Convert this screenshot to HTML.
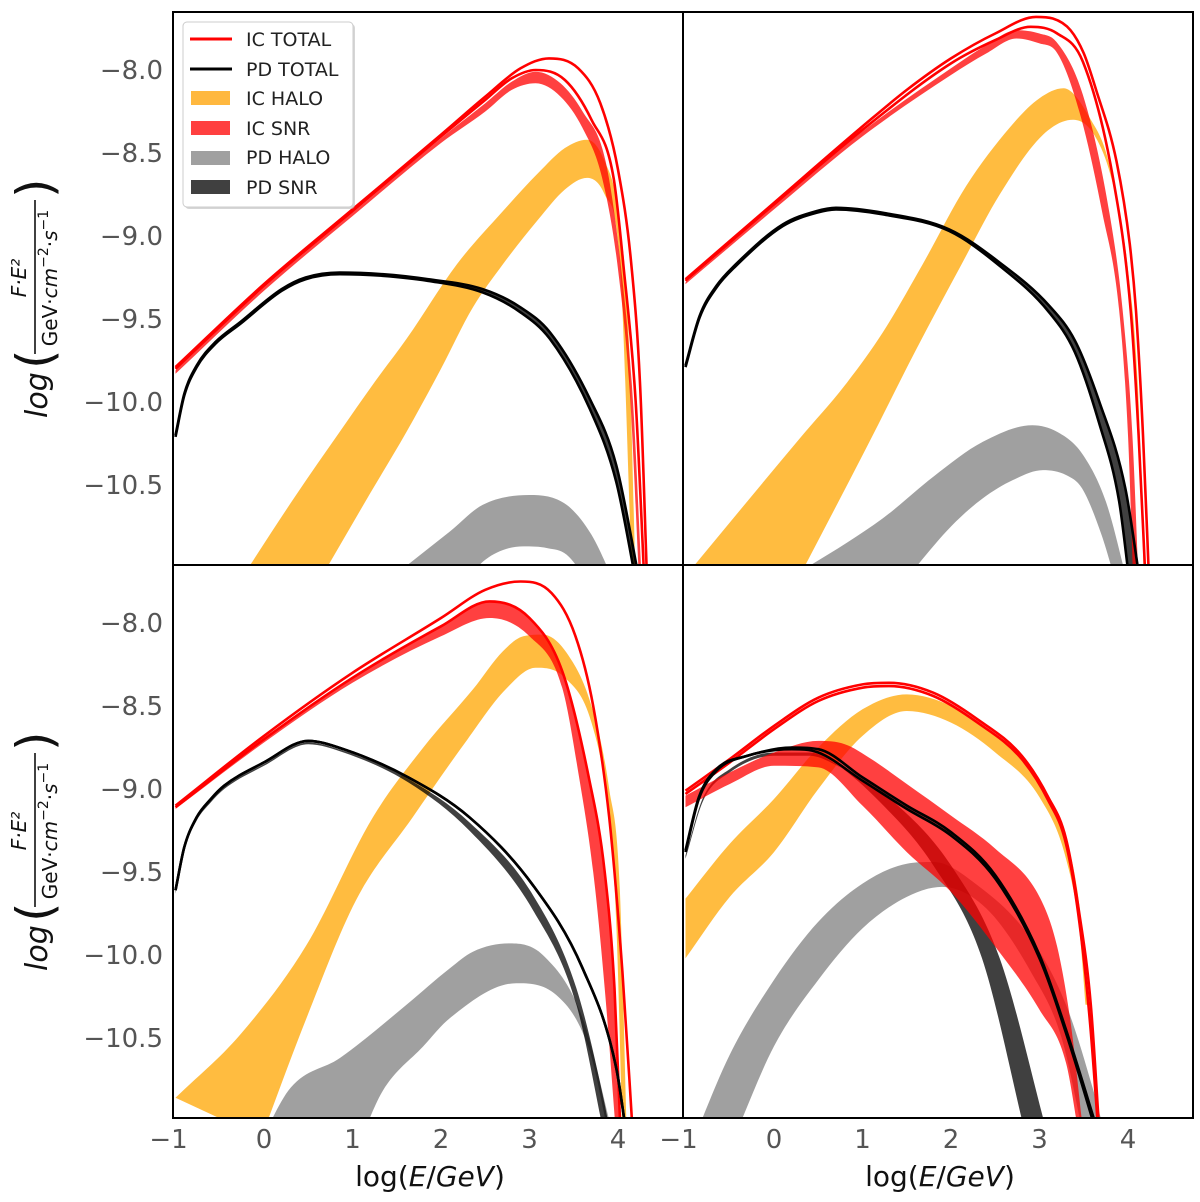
<!DOCTYPE html>
<html><head><meta charset="utf-8"><style>
body{margin:0;background:#fff;}
svg{display:block;font-family:"DejaVu Sans","Liberation Sans",sans-serif;}
.tick{font-size:26px;fill:#555;}
</style></head><body>
<svg id="chart" width="1200" height="1202" viewBox="0 0 1200 1202"></svg>
<script>
// ---- data (log E, log F·E²) ----
const xTicks = [-1,0,1,2,3,4];
const yTicks = [-8.0,-8.5,-9.0,-9.5,-10.0,-10.5];
// Panel 1 (top-left)
const p1IcTotalUpper=[[-1,-9.79],[0,-9.29],[1,-8.84],[2,-8.39],[2.5,-8.16],[2.9,-7.99],[3.22,-7.93],[3.55,-7.99],[3.8,-8.2],[4.0,-8.6],[4.15,-9.17],[4.25,-9.9],[4.33,-11.1]];
const p1IcTotalLower=[[-1,-9.8],[0,-9.3],[1,-8.85],[2,-8.4],[2.5,-8.18],[2.8,-8.05],[3.07,-8.0],[3.4,-8.06],[3.7,-8.3],[3.95,-8.65],[4.06,-9.17],[4.2,-10.0],[4.3,-11.1]];
const p1IcSnrUpper=[[-1,-9.81],[0,-9.31],[1,-8.86],[2,-8.41],[2.5,-8.2],[2.8,-8.07],[3.07,-8.01],[3.35,-8.08],[3.6,-8.25],[3.86,-8.55],[4.03,-9.17],[4.17,-10.0],[4.27,-11.1]];
const p1IcSnrLower=[[-1,-9.83],[0,-9.33],[1,-8.88],[2,-8.44],[2.5,-8.25],[2.8,-8.12],[3.07,-8.08],[3.35,-8.16],[3.6,-8.35],[3.82,-8.65],[4.0,-9.2],[4.14,-10.0],[4.24,-11.1]];
const p1IcHaloUpper=[[-0.3,-11.1],[0.35,-10.57],[0.855,-10.18],[1.25,-9.88],[1.61,-9.62],[2.18,-9.17],[2.7,-8.85],[3.1,-8.62],[3.4,-8.47],[3.65,-8.42],[3.85,-8.55],[4.0,-8.85],[4.12,-9.6],[4.2,-11.1]];
const p1IcHaloLower=[[0.6,-11.1],[1.2,-10.55],[1.61,-10.18],[2.0,-9.8],[2.36,-9.43],[2.7,-9.17],[3.1,-8.9],[3.4,-8.72],[3.65,-8.65],[3.85,-8.75],[4.02,-9.15],[4.16,-11.1]];
const p1PdHaloUpper=[[1.34,-11.1],[2.1,-10.78],[2.47,-10.62],[3.0,-10.56],[3.42,-10.62],[3.7,-10.8],[3.97,-11.1]];
const p1PdHaloLower=[[2.25,-11.1],[2.5,-10.95],[2.93,-10.87],[3.2,-10.88],[3.42,-10.92],[3.68,-11.1]];
const p1PdSnrUpper=[[-1,-10.2],[-0.9,-9.95],[-0.76,-9.78],[-0.55,-9.64],[-0.27,-9.52],[0.2,-9.32],[0.47,-9.25],[0.855,-9.22],[1.34,-9.23],[1.85,-9.26],[2.47,-9.32],[2.9,-9.43],[3.23,-9.58],[3.68,-9.98],[3.98,-10.38],[4.25,-11.1]];
const p1PdSnrLower=[[-1,-10.21],[-0.9,-9.96],[-0.76,-9.79],[-0.55,-9.65],[-0.27,-9.53],[0.2,-9.33],[0.47,-9.26],[0.855,-9.23],[1.34,-9.24],[1.85,-9.27],[2.47,-9.34],[2.9,-9.46],[3.23,-9.62],[3.68,-10.04],[3.98,-10.48],[4.21,-11.1]];
const p1PdTotalUpper=p1PdSnrUpper, p1PdTotalLower=p1PdSnrLower;
// Panel 2 (top-right)
const p2IcTotalUpper=[[-1,-9.26],[0,-8.8],[1,-8.34],[1.5,-8.12],[2,-7.93],[2.5,-7.78],[2.96,-7.68],[3.15,-7.69],[3.35,-7.76],[3.5,-7.9],[3.64,-8.12],[3.87,-8.55],[4.02,-9.05],[4.09,-9.45],[4.17,-10.2],[4.24,-11.1]];
const p2IcTotalLower=[[-1,-9.27],[0,-8.81],[1,-8.36],[2,-7.96],[2.5,-7.82],[2.9,-7.74],[3.2,-7.78],[3.49,-7.95],[3.83,-8.65],[4.03,-9.45],[4.12,-10.2],[4.2,-11.1]];
const p2IcSnrUpper=[[-1,-9.28],[0,-8.82],[1,-8.37],[2,-7.99],[2.4,-7.85],[2.74,-7.76],[3.0,-7.78],[3.19,-7.83],[3.49,-8.15],[3.79,-8.86],[3.94,-9.45],[4.05,-10.2],[4.12,-11.1]];
const p2IcSnrLower=[[-1,-9.29],[0,-8.84],[1,-8.4],[2,-8.03],[2.4,-7.9],[2.74,-7.81],[3.0,-7.84],[3.19,-7.89],[3.45,-8.25],[3.71,-8.86],[3.9,-9.45],[4.0,-10.2],[4.06,-11.1]];
const p2IcHaloUpper=[[-1.08,-11.1],[0.29,-10.22],[0.8,-9.9],[1.23,-9.58],[1.68,-9.17],[2.17,-8.7],[2.74,-8.3],[3.0,-8.17],[3.27,-8.11],[3.57,-8.29],[3.79,-8.57],[3.94,-9.05],[4.1,-9.9],[4.2,-11.1]];
const p2IcHaloLower=[[0.24,-11.1],[1.04,-10.28],[1.61,-9.68],[2.12,-9.17],[2.55,-8.75],[3.04,-8.39],[3.38,-8.3],[3.64,-8.41],[3.83,-8.69],[4.0,-9.2],[4.12,-10.0],[4.18,-11.1]];
const p2PdHaloUpper=[[0.06,-11.1],[1.23,-10.7],[1.8,-10.45],[2.36,-10.24],[2.92,-10.14],[3.2,-10.18],[3.48,-10.31],[3.75,-10.6],[4.0,-11.1]];
const p2PdHaloLower=[[1.44,-11.1],[2.0,-10.75],[2.36,-10.58],[2.7,-10.47],[3.04,-10.41],[3.3,-10.44],[3.48,-10.52],[3.7,-10.8],[3.87,-11.1]];
const p2PdSnrUpper=[[-1,-9.78],[-0.84,-9.48],[-0.65,-9.3],[-0.43,-9.17],[0.1,-8.93],[0.48,-8.85],[0.7,-8.83],[1.23,-8.86],[1.98,-8.96],[2.55,-9.16],[3.11,-9.42],[3.4,-9.63],[3.67,-9.99],[3.97,-10.52],[4.14,-11.1]];
const p2PdSnrLower=[[-1,-9.79],[-0.84,-9.49],[-0.65,-9.31],[-0.43,-9.18],[0.1,-8.94],[0.48,-8.86],[0.7,-8.84],[1.23,-8.87],[1.98,-8.97],[2.55,-9.18],[3.11,-9.46],[3.4,-9.7],[3.67,-10.12],[3.9,-10.6],[4.02,-11.1]];
const p2PdTotalUpper=p2PdSnrUpper, p2PdTotalLower=p2PdSnrLower;
// Panel 3 (bottom-left)
const p3IcTotalUpper=[[-1,-9.1],[0,-8.68],[1,-8.3],[2,-7.97],[2.5,-7.8],[2.9,-7.75],[3.25,-7.82],[3.52,-8.08],[3.72,-8.5],[3.9,-9.17],[4.05,-10.1],[4.17,-11.1]];
const p3IcSnrUpper=[[-1,-9.11],[0,-8.7],[1,-8.33],[2,-8.02],[2.55,-7.87],[3.0,-7.97],[3.37,-8.29],[3.67,-8.93],[3.85,-9.5],[3.96,-10.2],[4.03,-11.1]];
const p3IcSnrLower=[[-1,-9.12],[0,-8.72],[1,-8.36],[2,-8.08],[2.55,-7.97],[3.0,-8.08],[3.37,-8.39],[3.56,-8.93],[3.72,-9.5],[3.85,-10.2],[3.98,-11.1]];
const p3IcTotalLower=p3IcSnrUpper;
const p3IcHaloUpper=[[-1,-10.86],[-0.27,-10.48],[0.48,-9.94],[1.23,-9.17],[1.8,-8.75],[2.36,-8.4],[2.7,-8.17],[2.93,-8.08],[3.15,-8.07],[3.42,-8.18],[3.7,-8.5],[3.9,-9.0],[4.02,-9.6],[4.1,-11.1]];
const p3IcHaloLower=[[-0.03,-11.1],[0.48,-10.38],[1.04,-9.67],[1.68,-9.17],[2.3,-8.7],[2.73,-8.4],[3.07,-8.27],[3.4,-8.33],[3.7,-8.6],[3.88,-9.1],[3.98,-9.8],[4.05,-11.1]];
const p3PdHaloUpper=[[-0.02,-11.1],[0.3,-10.8],[0.86,-10.62],[1.61,-10.3],[2.1,-10.08],[2.36,-9.98],[2.78,-9.93],[3.15,-10.0],[3.6,-10.38],[3.95,-11.1]];
const p3PdHaloLower=[[1.1,-11.1],[1.34,-10.82],[1.8,-10.55],[2.1,-10.38],[2.85,-10.17],[3.3,-10.24],[3.68,-10.58],[3.9,-11.1]];
const p3PdTotalUpper=[[-1,-9.61],[-0.9,-9.35],[-0.76,-9.17],[-0.6,-9.06],[-0.45,-8.98],[0,-8.84],[0.5,-8.71],[0.9,-8.76],[1.63,-8.93],[2.32,-9.17],[3.04,-9.58],[3.6,-10.08],[3.98,-10.68],[4.1,-11.1]];
const p3PdTotalLower=p3PdTotalUpper;
const p3PdSnrUpper=[[-1,-9.62],[-0.9,-9.36],[-0.76,-9.18],[-0.6,-9.07],[-0.45,-8.99],[0,-8.85],[0.5,-8.72],[0.9,-8.77],[1.63,-8.94],[2.32,-9.2],[3.04,-9.64],[3.53,-10.2],[3.85,-10.9],[3.92,-11.1]];
const p3PdSnrLower=[[-1,-9.63],[-0.9,-9.37],[-0.76,-9.19],[-0.6,-9.08],[-0.45,-9.0],[0,-8.86],[0.5,-8.73],[0.9,-8.78],[1.63,-8.96],[2.32,-9.25],[3.04,-9.73],[3.53,-10.3],[3.85,-11.1]];
// Panel 4 (bottom-right)
const p4IcTotalUpper=[[-1,-9.01],[-0.5,-8.82],[0,-8.62],[0.5,-8.45],[1,-8.37],[1.3,-8.36],[1.8,-8.42],[2.3,-8.58],[2.8,-8.8],[3.1,-9.05],[3.3,-9.3],[3.45,-9.75],[3.58,-10.3],[3.68,-11.1]];
const p4IcTotalLower=[[-1,-9.03],[-0.5,-8.84],[0,-8.64],[0.5,-8.47],[1,-8.39],[1.3,-8.38],[1.8,-8.44],[2.3,-8.6],[2.8,-8.82],[3.1,-9.07],[3.3,-9.33],[3.45,-9.8],[3.57,-10.4],[3.67,-11.1]];
const p4IcSnrUpper=[[-1,-9.04],[-0.5,-8.9],[0,-8.78],[0.5,-8.71],[0.8,-8.73],[1.1,-8.82],[1.5,-8.97],[2,-9.16],[2.5,-9.36],[3,-9.65],[3.2,-9.95],[3.35,-10.4],[3.5,-11.1]];
const p4IcSnrLower=[[-1,-9.11],[-0.5,-8.97],[0,-8.86],[0.5,-8.87],[1,-9.1],[1.5,-9.38],[2,-9.62],[2.5,-9.95],[3,-10.33],[3.3,-10.65],[3.45,-11.1]];
const p4IcHaloUpper=[[-1,-9.66],[-0.5,-9.33],[0,-9.06],[0.5,-8.75],[1,-8.52],[1.5,-8.43],[2,-8.5],[2.5,-8.68],[3,-8.95],[3.3,-9.3],[3.45,-9.7],[3.55,-10.3]];
const p4IcHaloLower=[[-1,-10.02],[-0.5,-9.65],[0,-9.38],[0.5,-9.0],[1,-8.68],[1.5,-8.53],[2,-8.6],[2.5,-8.78],[3,-9.05],[3.3,-9.42],[3.45,-9.85],[3.52,-10.3]];
const p4PdHaloUpper=[[-0.9,-11.1],[-0.5,-10.6],[0,-10.15],[0.5,-9.8],[1,-9.57],[1.5,-9.45],[1.8,-9.44],[2.3,-9.58],[2.9,-9.9],[3.3,-10.3],[3.6,-10.8],[3.75,-11.1]];
const p4PdHaloLower=[[-0.45,-11.1],[0,-10.55],[0.5,-10.15],[1,-9.84],[1.5,-9.65],[1.9,-9.59],[2.4,-9.72],[2.9,-10.1],[3.25,-10.5],[3.5,-11.1]];
const p4PdSnrUpper=[[-1,-9.4],[-0.8,-9.05],[-0.5,-8.88],[0,-8.78],[0.4,-8.78],[0.7,-8.85],[1.2,-9.08],[1.8,-9.46],[2.35,-10.02],[2.85,-11.1]];
const p4PdSnrLower=[[-1,-9.42],[-0.8,-9.07],[-0.5,-8.9],[0,-8.8],[0.4,-8.8],[0.75,-8.87],[1.4,-9.1],[2,-9.46],[2.55,-10.02],[3.1,-11.1]];
const p4PdTotalUpper=[[-1,-9.37],[-0.85,-9.05],[-0.65,-8.88],[-0.3,-8.8],[0.2,-8.75],[0.5,-8.76],[1,-8.93],[1.5,-9.1],[2,-9.26],[2.5,-9.52],[3,-10.0],[3.3,-10.45],[3.68,-11.1]];
const p4PdTotalLower=[[-1,-9.38],[-0.85,-9.06],[-0.65,-8.89],[-0.3,-8.8],[0.2,-8.76],[0.5,-8.78],[1,-8.95],[1.5,-9.12],[2,-9.28],[2.5,-9.54],[3,-10.02],[3.3,-10.47],[3.66,-11.1]];

const panels=[
 {col:0,row:0,icTU:p1IcTotalUpper,icTL:p1IcTotalLower,icSU:p1IcSnrUpper,icSL:p1IcSnrLower,icHU:p1IcHaloUpper,icHL:p1IcHaloLower,pdHU:p1PdHaloUpper,pdHL:p1PdHaloLower,pdSU:p1PdSnrUpper,pdSL:p1PdSnrLower,pdTU:p1PdTotalUpper,pdTL:p1PdTotalLower},
 {col:1,row:0,icTU:p2IcTotalUpper,icTL:p2IcTotalLower,icSU:p2IcSnrUpper,icSL:p2IcSnrLower,icHU:p2IcHaloUpper,icHL:p2IcHaloLower,pdHU:p2PdHaloUpper,pdHL:p2PdHaloLower,pdSU:p2PdSnrUpper,pdSL:p2PdSnrLower,pdTU:p2PdTotalUpper,pdTL:p2PdTotalLower},
 {col:0,row:1,icTU:p3IcTotalUpper,icTL:p3IcTotalLower,icSU:p3IcSnrUpper,icSL:p3IcSnrLower,icHU:p3IcHaloUpper,icHL:p3IcHaloLower,pdHU:p3PdHaloUpper,pdHL:p3PdHaloLower,pdSU:p3PdSnrUpper,pdSL:p3PdSnrLower,pdTU:p3PdTotalUpper,pdTL:p3PdTotalLower},
 {col:1,row:1,icTU:p4IcTotalUpper,icTL:p4IcTotalLower,icSU:p4IcSnrUpper,icSL:p4IcSnrLower,icHU:p4IcHaloUpper,icHL:p4IcHaloLower,pdHU:p4PdHaloUpper,pdHL:p4PdHaloLower,pdSU:p4PdSnrUpper,pdSL:p4PdSnrLower,pdTU:p4PdTotalUpper,pdTL:p4PdTotalLower}
];

const NS="http://www.w3.org/2000/svg";
const svg=document.getElementById('chart');
const PL=[173,683], PT=[12,565], PW=510, PH=553;
function xS(v,col){return PL[col]+2.5+(v+1)*88.5;}
function yS(v,row){return PT[row]+58+(-8-v)*166;}
function mk(tag,attrs,parent){const e=document.createElementNS(NS,tag);for(const k in attrs)e.setAttribute(k,attrs[k]);(parent||svg).appendChild(e);return e;}
function segs(pts){
  const n=pts.length, d=[], m=new Array(n);
  for(let i=0;i<n-1;i++){d.push((pts[i+1][1]-pts[i][1])/(pts[i+1][0]-pts[i][0]));}
  m[0]=d[0]; m[n-1]=d[n-2];
  for(let i=1;i<n-1;i++){ m[i]=(d[i-1]*d[i]<=0)?0:(d[i-1]+d[i])/2; }
  for(let i=0;i<n-1;i++){
    if(d[i]===0){m[i]=0;m[i+1]=0;continue;}
    const a=m[i]/d[i], b=m[i+1]/d[i], s=a*a+b*b;
    if(s>9){const t=3/Math.sqrt(s); m[i]=t*a*d[i]; m[i+1]=t*b*d[i];}
  }
  const out=[];
  for(let i=0;i<n-1;i++){
    const h=pts[i+1][0]-pts[i][0];
    out.push([pts[i],[pts[i][0]+h/3,pts[i][1]+m[i]*h/3],[pts[i+1][0]-h/3,pts[i+1][1]-m[i+1]*h/3],pts[i+1]]);
  }
  return out;
}
function f(p){return p[0].toFixed(1)+','+p[1].toFixed(1);}
function pathFwd(pts){const s=segs(pts);let d='M'+f(pts[0]);s.forEach(g=>{d+='C'+f(g[1])+' '+f(g[2])+' '+f(g[3]);});return d;}
function pathRev(pts){const s=segs(pts).reverse();let d='L'+f(pts[pts.length-1]);s.forEach(g=>{d+='C'+f(g[2])+' '+f(g[1])+' '+f(g[0]);});return d;}
function px(arr,p){return arr.map(a=>[xS(a[0],p.col),yS(a[1],p.row)]);}
function band(p,up,lo,color,name,g){
  const d=pathFwd(px(up,p))+pathRev(px(lo,p))+'Z';
  const e=mk('path',{d:d,fill:color,'fill-opacity':0.75,stroke:'none'},g);
  
  
}
function line(p,arr,color,name,g){
  const e=mk('path',{d:pathFwd(px(arr,p)),fill:'none',stroke:color,'stroke-width':2.6,'stroke-linejoin':'round'},g);
  
  
}
panels.forEach((p,i)=>{
  const cid='clip'+i;
  const cp=mk('clipPath',{id:cid});
  mk('rect',{x:PL[p.col],y:PT[p.row],width:PW,height:PH},cp);
  const g=mk('g',{'clip-path':'url(#'+cid+')'});
  
  
  band(p,p.icHU,p.icHL,'#ffa500','ic-halo-band',g);
  band(p,p.pdHU,p.pdHL,'#808080','pd-halo-band',g);
  band(p,p.pdSU,p.pdSL,'#000000','pd-snr-band',g);
  band(p,p.icSU,p.icSL,'#ff0000','ic-snr-band',g);
  line(p,p.icTU,'#ff0000','ic-total-upper',g);
  line(p,p.icTL,'#ff0000','ic-total-lower',g);
  line(p,p.pdTU,'#000000','pd-total-upper',g);
  line(p,p.pdTL,'#000000','pd-total-lower',g);
  const fr=mk('rect',{x:PL[p.col],y:PT[p.row],width:PW,height:PH,fill:'none',stroke:'#000','stroke-width':2});
  
  
  if(p.col===0){
    yTicks.forEach(t=>{
      const tx=mk('text',{x:163,y:yS(t,p.row)+9,'text-anchor':'end',class:'tick'});
      tx.textContent=(t<0?'\u2212':'')+Math.abs(t).toFixed(1);
      
      
    });
  }
  if(p.row===1){
    xTicks.forEach(t=>{
      const tx=mk('text',{x:xS(t,p.col)+(t<0?-7:0),y:1148,'text-anchor':'middle',class:'tick'});
      tx.textContent=(t<0?'\u2212':'')+Math.abs(t);
      
      
    });
  }
});
</script>
<script>
(function(){
const NS="http://www.w3.org/2000/svg",svg=document.getElementById('chart');
function ylab(cy,name){return `
<g transform="translate(0,${cy}) rotate(-90)">
 <text x="-128" y="47" font-size="30" font-style="italic" fill="#111">log</text>
 <text x="-79" y="52" font-size="50" fill="#111">(</text>
 <text x="12" y="26" text-anchor="middle" font-size="20" font-style="italic" fill="#111">F·E²</text>
 <line x1="-64" y1="35" x2="90" y2="35" stroke="#111" stroke-width="1.6"/>
 <text x="12" y="57" text-anchor="middle" font-size="20" fill="#111">GeV·<tspan font-style="italic">cm</tspan><tspan font-size="14" dy="-9">−2</tspan><tspan dy="9">·</tspan><tspan font-style="italic">s</tspan><tspan font-size="14" dy="-9">−1</tspan></text>
 <text x="92" y="52" font-size="50" fill="#111">)</text>
</g>`;}
const frag=`
<g><text x="430" y="1186" text-anchor="middle" font-size="28" fill="#111">log(<tspan font-style="italic">E</tspan>/<tspan font-style="italic">GeV</tspan>)</text></g>
<g><text x="940" y="1186" text-anchor="middle" font-size="28" fill="#111">log(<tspan font-style="italic">E</tspan>/<tspan font-style="italic">GeV</tspan>)</text></g>
${ylab(290,'y-axis-title-top')}
${ylab(843,'y-axis-title-bottom')}
<g font-size="19" fill="#222">
 <rect x="185" y="24" width="170" height="185" rx="4" fill="#bbb" opacity="0.6"/>
 <rect x="183" y="22" width="170" height="185" rx="4" fill="#fff" stroke="#ccc" stroke-width="1"/>
 <g><line x1="190" y1="39" x2="232" y2="39" stroke="#f00" stroke-width="3"/><text x="246" y="46">IC TOTAL</text></g>
 <g><line x1="190" y1="69" x2="232" y2="69" stroke="#000" stroke-width="3"/><text x="246" y="76">PD TOTAL</text></g>
 <g><rect x="191" y="91" width="39" height="14" fill="#ffb83f"/><text x="246" y="105">IC HALO</text></g>
 <g><rect x="191" y="121" width="39" height="14" fill="#ff4040"/><text x="246" y="135">IC SNR</text></g>
 <g><rect x="191" y="151" width="39" height="14" fill="#a0a0a0"/><text x="246" y="164">PD HALO</text></g>
 <g><rect x="191" y="180" width="39" height="14" fill="#404040"/><text x="246" y="194">PD SNR</text></g>
</g>`;
const g=document.createElementNS(NS,'g');
g.innerHTML=frag;
svg.appendChild(g);
})();
</script>
</body></html>
